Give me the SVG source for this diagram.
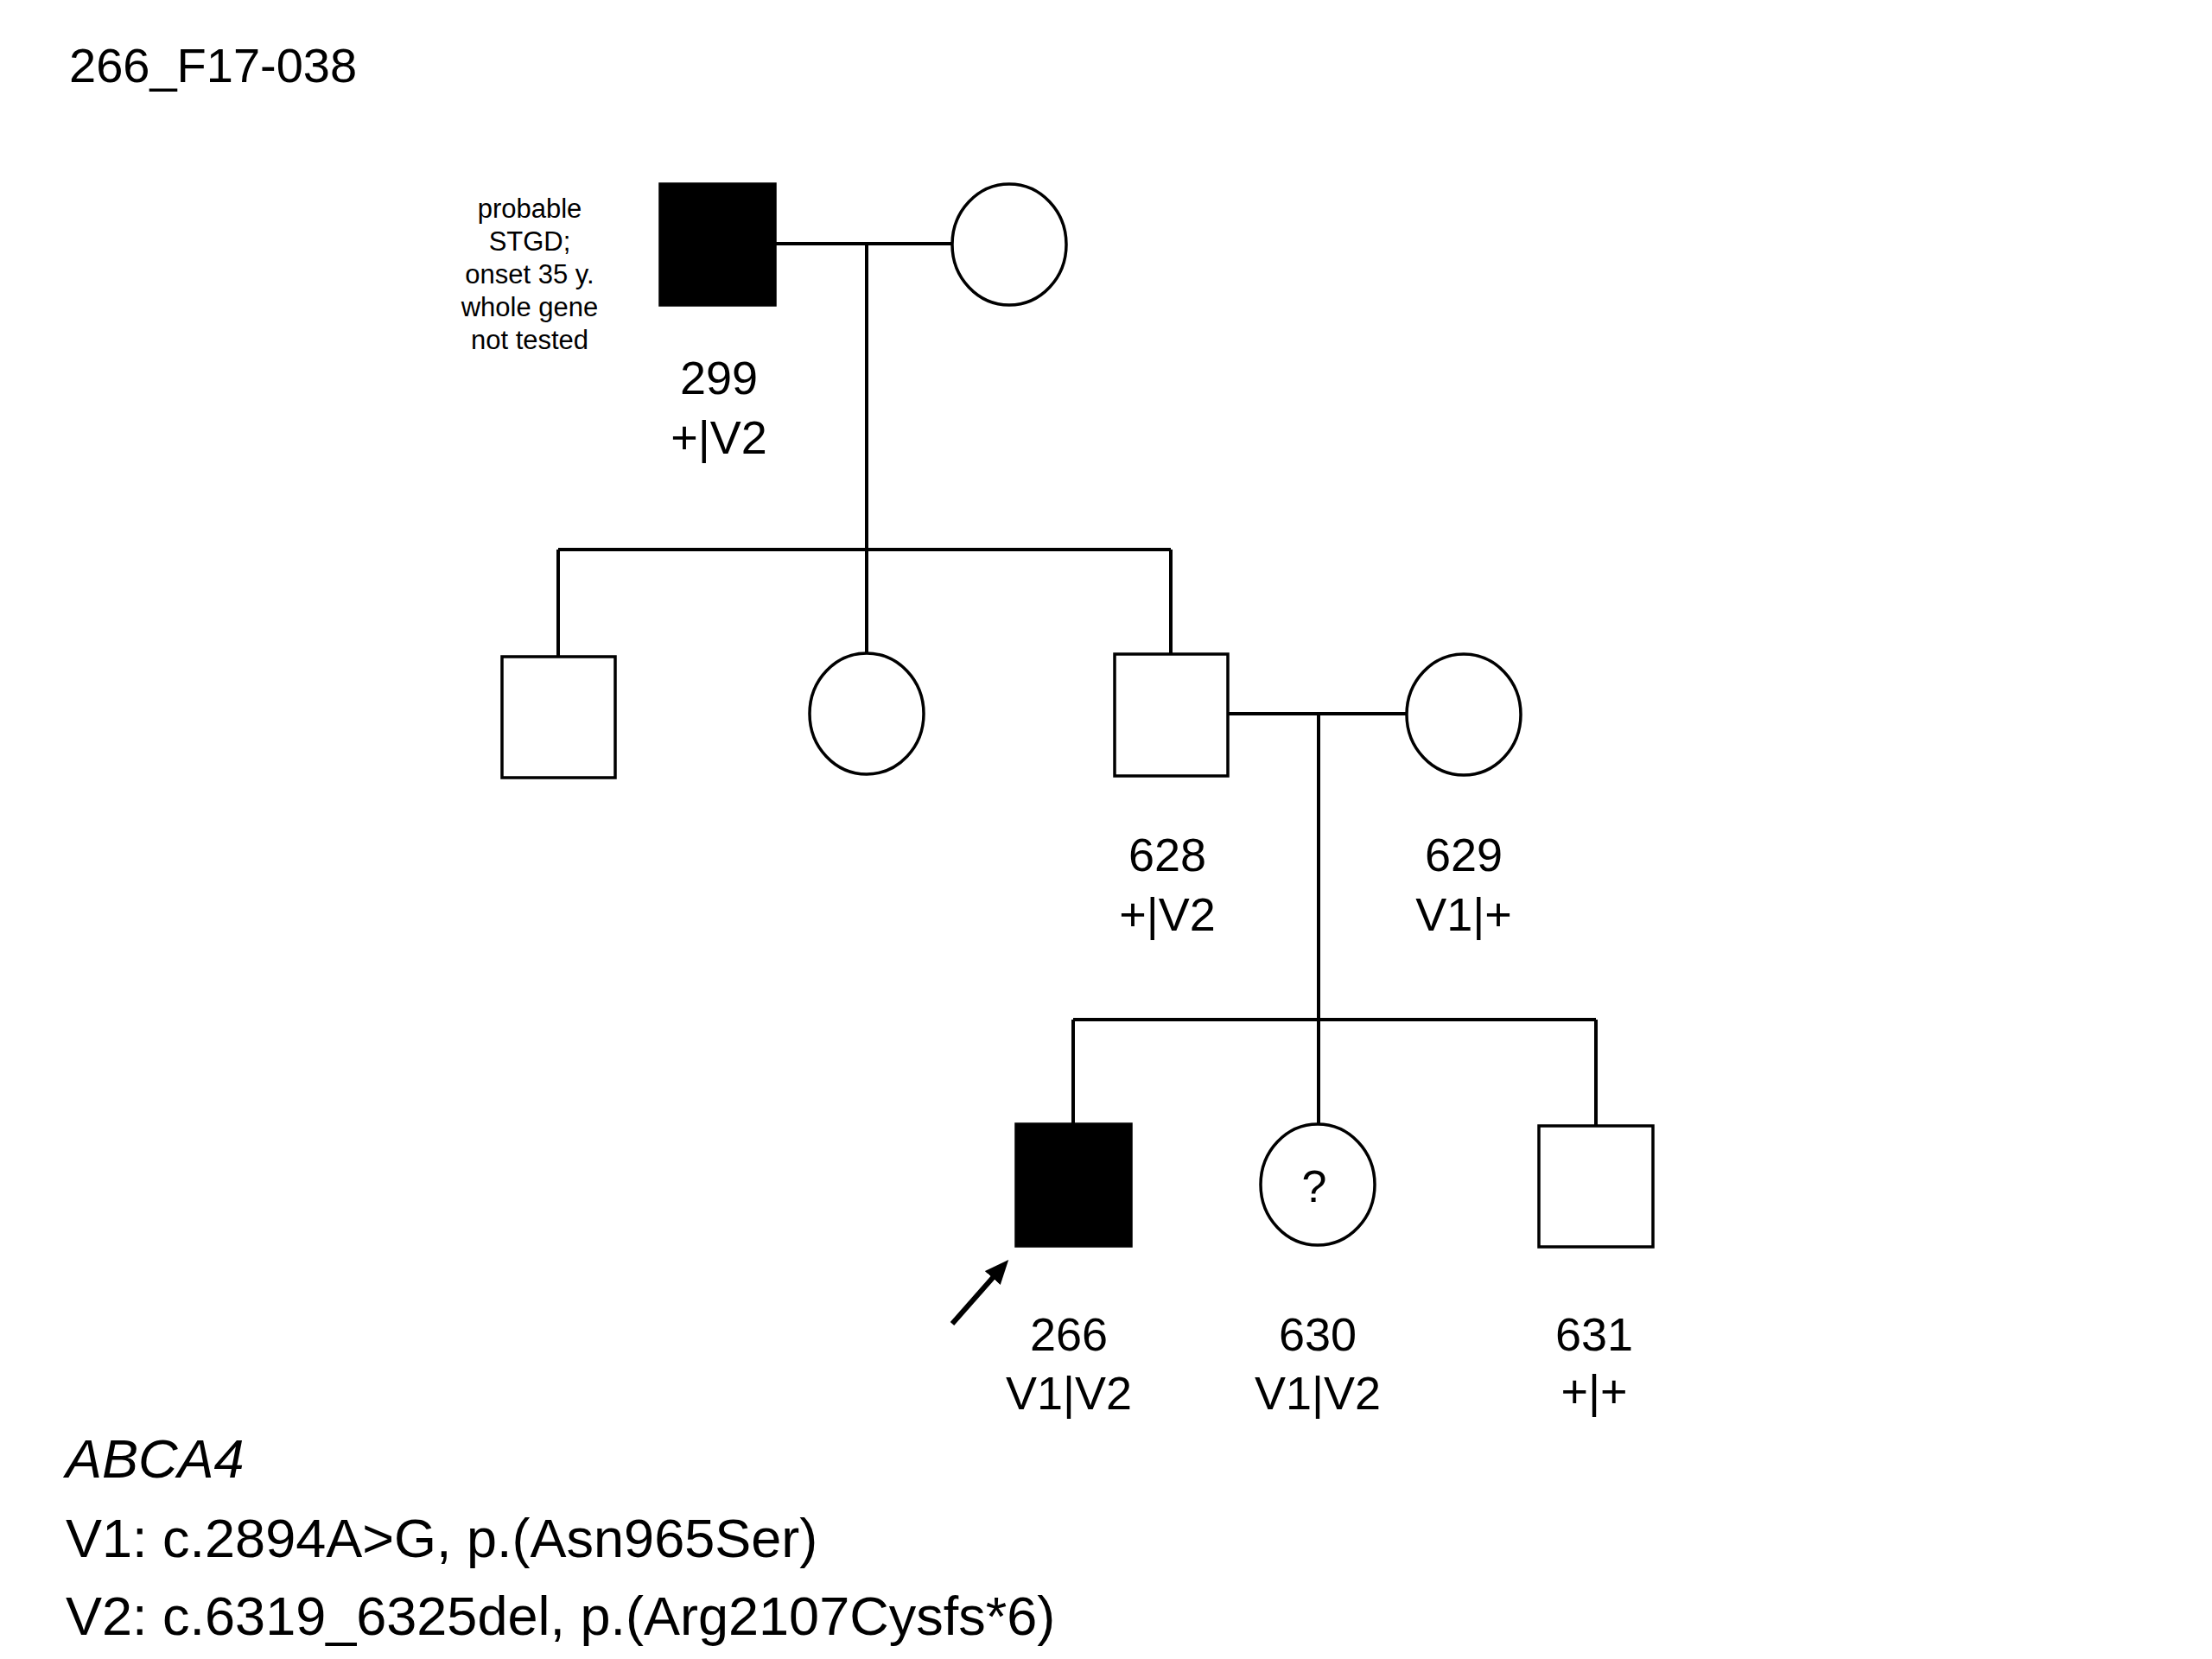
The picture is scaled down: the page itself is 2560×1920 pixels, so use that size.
<svg xmlns="http://www.w3.org/2000/svg" width="2560" height="1920" viewBox="0 0 2560 1920">
<style>
.ln{stroke:#000;stroke-width:4;fill:none}
.sh{stroke:#000;stroke-width:3.5;fill:#fff}
.aff{stroke:#000;stroke-width:3.5;fill:#000}
.t{font-family:"Liberation Sans",Arial,sans-serif;fill:#000}
.lbl{font-size:54px;text-anchor:middle}
.note{font-size:31px;text-anchor:middle}
.leg{font-size:63px}
</style>
<defs>
<marker id="ah" markerUnits="userSpaceOnUse" markerWidth="30" markerHeight="24" refX="8" refY="12" orient="auto">
<path d="M0,0 L28,12 L0,24 Z" fill="#000"/>
</marker>
</defs>
<rect width="2560" height="1920" fill="#fff"/>
<text class="t" x="80" y="95" font-size="56">266_F17-038</text>

<g id="connectors">
<line class="ln" x1="897" y1="282" x2="1101" y2="282"/>
<line class="ln" x1="1003" y1="282" x2="1003" y2="755"/>
<line class="ln" x1="646" y1="636" x2="1355" y2="636"/>
<line class="ln" x1="646" y1="636" x2="646" y2="760"/>
<line class="ln" x1="1355" y1="636" x2="1355" y2="757"/>
<line class="ln" x1="1421" y1="826" x2="1628" y2="826"/>
<line class="ln" x1="1526" y1="826" x2="1526" y2="1300"/>
<line class="ln" x1="1242" y1="1180" x2="1847" y2="1180"/>
<line class="ln" x1="1242" y1="1180" x2="1242" y2="1300"/>
<line class="ln" x1="1847" y1="1180" x2="1847" y2="1303"/>
</g>

<g id="n299">
<rect class="aff" x="764" y="213" width="133" height="140"/>
<text class="t note" x="613" y="252">probable</text>
<text class="t note" x="613" y="290">STGD;</text>
<text class="t note" x="613" y="328">onset 35 y.</text>
<text class="t note" x="613" y="366">whole gene</text>
<text class="t note" x="613" y="404">not tested</text>
<text class="t lbl" x="832" y="456">299</text>
<text class="t lbl" x="832" y="525">+|V2</text>
</g>
<g id="n299spouse">
<ellipse class="sh" cx="1168" cy="283" rx="66" ry="70"/>
</g>

<g id="sib1">
<rect class="sh" x="581" y="760" width="131" height="140"/>
</g>
<g id="sib2">
<ellipse class="sh" cx="1003" cy="826" rx="66" ry="70"/>
</g>
<g id="n628">
<rect class="sh" x="1290" y="757" width="131" height="141"/>
<text class="t lbl" x="1351" y="1008">628</text>
<text class="t lbl" x="1351" y="1077">+|V2</text>
</g>
<g id="n629">
<ellipse class="sh" cx="1694" cy="827" rx="66" ry="70"/>
<text class="t lbl" x="1694" y="1008">629</text>
<text class="t lbl" x="1694" y="1077">V1|+</text>
</g>

<g id="n266">
<rect class="aff" x="1176" y="1301" width="133" height="141"/>
<line x1="1102" y1="1532" x2="1154" y2="1473" stroke="#000" stroke-width="6" marker-end="url(#ah)"/>
<text class="t lbl" x="1237" y="1563">266</text>
<text class="t lbl" x="1237" y="1631">V1|V2</text>
</g>
<g id="n630">
<ellipse class="sh" cx="1525" cy="1371" rx="66" ry="70"/>
<text class="t" x="1521" y="1391" font-size="52" text-anchor="middle">?</text>
<text class="t lbl" x="1525" y="1563">630</text>
<text class="t lbl" x="1525" y="1631">V1|V2</text>
</g>
<g id="n631">
<rect class="sh" x="1781" y="1303" width="132" height="140"/>
<text class="t lbl" x="1845" y="1563">631</text>
<text class="t lbl" x="1845" y="1629">+|+</text>
</g>

<g id="legend">
<text class="t leg" x="76" y="1710" font-style="italic">ABCA4</text>
<text class="t leg" x="76" y="1802">V1: c.2894A&gt;G, p.(Asn965Ser)</text>
<text class="t leg" x="76" y="1892">V2: c.6319_6325del, p.(Arg2107Cysfs*6)</text>
</g>
</svg>
